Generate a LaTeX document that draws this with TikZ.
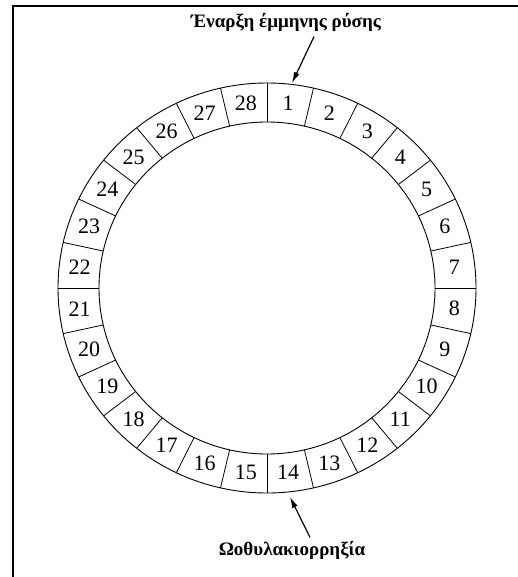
\documentclass[tikz,border=0pt]{standalone}
\usepackage{fontspec}
\setmainfont{Liberation Serif}
\usetikzlibrary{arrows.meta,positioning,calc}

\begin{document}
\begin{tikzpicture}[>={Latex[length=11pt,width=6pt]},x=1pt,y=1pt]
    \useasboundingbox (0,0) rectangle (517,-577);
    \draw[line width=2.4pt] (13,-580) -- (13,-6) -- (520,-6);
    \coordinate (c) at (267,-288);
    % ring of days
    \draw[line width=0.9pt] (c) ellipse (209 and 205);
    \draw[line width=0.9pt] (c) ellipse (168 and 166);
    \foreach \d in {1,...,28}{
      \pgfmathsetmacro{\a}{90-(\d-1)*360/28}
      \pgfmathsetmacro{\m}{\a-180/28}
      \draw[line width=0.8pt] ($(c)+(\a:168 and 166)$) -- ($(c)+(\a:209 and 205)$);
      \node[font=\fontsize{22}{22}\selectfont] (day\d) at ($(c)+(\m:188.5 and 185.5)$) {\d};
    }
    \node[font=\bfseries\fontsize{19}{19}\selectfont] (onset) at (286,-22) {Έναρξη έμμηνης ρύσης};
    \node[font=\bfseries\fontsize{19}{19}\selectfont] (ovul) at (292,-550) {Ωοθυλακιορρηξία};
    \coordinate (onsettip) at (292,-83);
    \coordinate (ovultip) at (290,-497);
    \draw[->,line width=1.2pt] ([xshift=28pt,yshift=-2pt]onset.south) -- (onsettip);
    \draw[->,line width=1.2pt] ([xshift=18pt]ovul.north) -- (ovultip);
  \end{tikzpicture}
\end{document}
